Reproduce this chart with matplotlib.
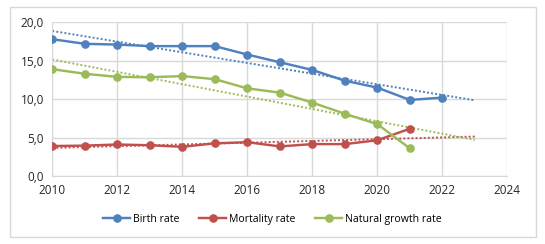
import matplotlib.pyplot as plt
from matplotlib.ticker import FuncFormatter
import numpy as np

years = [2010, 2011, 2012, 2013, 2014, 2015, 2016, 2017, 2018, 2019, 2020, 2021, 2022]
birth_rate = [17.8, 17.2, 17.1, 16.9, 16.9, 16.9, 15.8, 14.8, 13.8, 12.4, 11.5, 9.9, 10.2]
mortality_rate = [3.9, 3.95, 4.1, 4.0, 3.8, 4.25, 4.4, 3.85, 4.15, 4.15, 4.65, 6.15]
growth_rate = [13.9, 13.3, 12.9, 12.85, 13.0, 12.6, 11.4, 10.85, 9.55, 8.1, 6.75, 3.6]
trend_end = 2023

labels = ['Birth rate', 'Mortality rate', 'Natural growth rate']
colors = ['#4F81BD', '#C0504D', '#9BBB59']

plt.rcParams['font.family'] = ['Open Sans', 'DejaVu Sans']

fig = plt.figure(figsize=(5.45, 2.44), dpi=100)
# outer chart border
fig.patches.append(plt.Rectangle((10 / 545, 1 - 237 / 244), 526 / 545, 230 / 244,
                                 transform=fig.transFigure, fill=False,
                                 edgecolor='#D9D9D9', linewidth=1))
ax = fig.add_axes([52.3 / 545, 1 - 176 / 244, 455 / 545, 153.7 / 244])

series = [birth_rate, mortality_rate, growth_rate]
for vals, lab, col in zip(series, labels, colors):
    x = np.array(years[:len(vals)])
    ax.plot(x, vals, color=col, linewidth=1.75, marker='o', markersize=5.2, label=lab, zorder=3)
    # linear trendline, like the spreadsheet one, extended to 2023
    k, b = np.polyfit(x, vals, 1)
    tx = np.array([years[0], trend_end])
    ax.plot(tx, k * tx + b, color=col, linewidth=1.4, linestyle=(0, (1, 1.1)), zorder=2)

ax.set_xlim(2010, 2024)
ax.set_ylim(0, 20)
ax.set_xticks(range(2010, 2025, 2))
ax.set_yticks([0, 5, 10, 15, 20])
ax.yaxis.set_major_formatter(FuncFormatter(lambda v, p: f'{v:.1f}'.replace('.', ',')))
ax.grid(True, color='#D9D9D9', linewidth=1)
ax.set_axisbelow(True)
for s in ['top', 'right']:
    ax.spines[s].set_visible(False)
for s in ['left', 'bottom']:
    ax.spines[s].set_color('#D9D9D9')
ax.tick_params(length=0, labelsize=8.5, colors='#262626', pad=6)

ax.legend(loc='center', bbox_to_anchor=(0.484, -0.28), ncol=3, frameon=False,
          fontsize=7.6, handlelength=2.5, columnspacing=1.9, handletextpad=0.3)

plt.savefig('out.png', dpi=100)
